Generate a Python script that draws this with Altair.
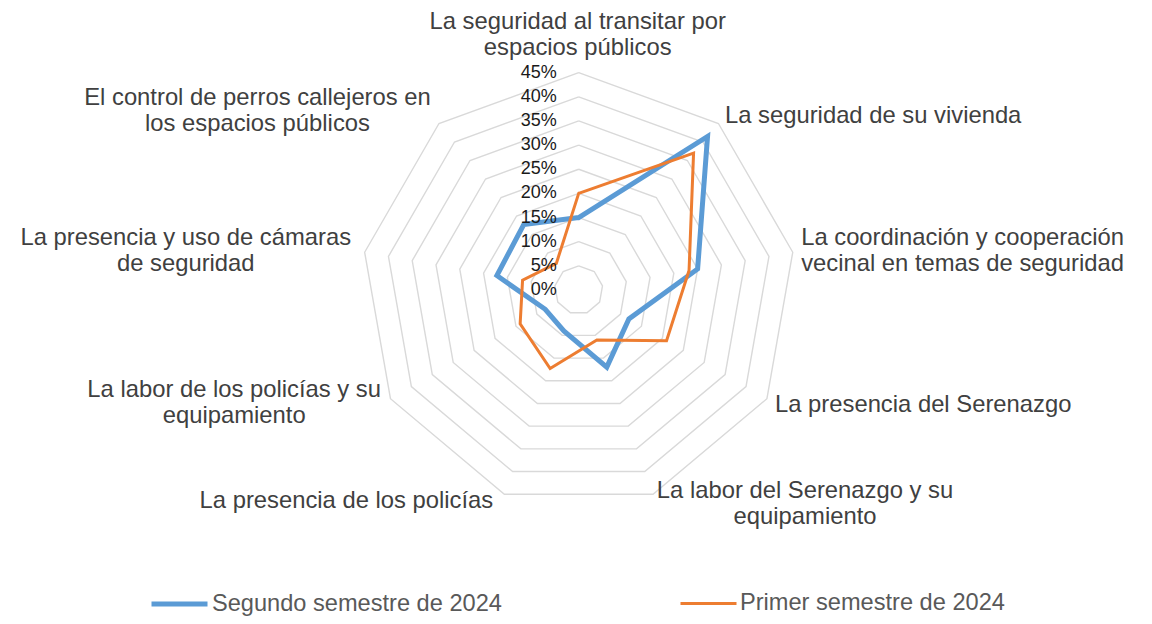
import math
import altair as alt
import pandas as pd

# ---------------- data ----------------
categories = [
    "La seguridad al transitar por espacios públicos",
    "La seguridad de su vivienda",
    "La coordinación y cooperación vecinal en temas de seguridad",
    "La presencia del Serenazgo",
    "La labor del Serenazgo y su equipamiento",
    "La presencia de los policías",
    "La labor de los policías y su equipamiento",
    "La presencia y uso de cámaras de seguridad",
    "El control de perros callejeros en los espacios públicos",
]
category_labels = [
    "La seguridad al transitar por\nespacios públicos",
    "La seguridad de su vivienda",
    "La coordinación y cooperación\nvecinal en temas de seguridad",
    "La presencia del Serenazgo",
    "La labor del Serenazgo y su\nequipamiento",
    "La presencia de los policías",
    "La labor de los policías y su\nequipamiento",
    "La presencia y uso de cámaras\nde seguridad",
    "El control de perros callejeros en\nlos espacios públicos",
]
series_names = ["Segundo semestre de 2024", "Primer semestre de 2024"]
segundo = [15.0, 41.5, 25.0, 12.0, 17.0, 9.0, 8.0, 17.2, 17.7]
primer = [20.0, 37.0, 23.2, 21.0, 11.0, 17.3, 14.0, 11.8, 7.2]
series_values = [segundo, primer]
ring_values = [5, 10, 15, 20, 25, 30, 35, 40, 45]
tick_values = [0, 5, 10, 15, 20, 25, 30, 35, 40, 45]
tick_labels = ["0%", "5%", "10%", "15%", "20%", "25%", "30%", "35%", "40%", "45%"]

# ---------------- layout ----------------
CX, CY, K = 578.7, 290.0, 4.83      # page centre (px) and px per percentage point
W, H = 1136, 608
X0 = (0 - (CX - 8)) / K
X1 = (W - (CX - 8)) / K
Y1 = (CY - 8) / K
Y0 = Y1 - H / K
R_MAX = 45
FONT = "Liberation Sans"
COLORS = ["#5b9bd5", "#ed7d31"]
WIDTHS = [5, 3]
LABEL_SIZE = 23.8

# per-label placement relative to the outer ring vertex: (align, dx px, dy px)
label_layout = [
    ("center", -1, -43.4),
    ("left", 6.6, -0.2),
    ("center", 169.8, -7.3),
    ("left", 8.1, 13.0),
    ("center", 152.0, 4.1),
    ("right", -11.1, 14.1),
    ("center", -156.3, -2.0),
    ("center", -178.9, -7.3),
    ("center", -181.5, -18.5),
]

n = len(categories)


def polar(v, i):
    a = 2 * math.pi * i / n
    return v * math.sin(a), v * math.cos(a)


# series polygons
rows = []
for s, vals in zip(series_names, series_values):
    for k in range(n + 1):
        i = k % n
        x, y = polar(vals[i], i)
        rows.append({"series": s, "cat": categories[i], "value": vals[i], "order": k, "x": x, "y": y})
df_series = pd.DataFrame(rows)

# grid rings
grows = []
for r in ring_values:
    for k in range(n + 1):
        x, y = polar(r, k % n)
        grows.append({"ring": r, "order": k, "x": x, "y": y})
df_grid = pd.DataFrame(grows)

# tick labels (left of the top axis)
df_ticks = pd.DataFrame({
    "label": tick_labels,
    "x": [-22 / K] * len(tick_values),
    "y": tick_values,
})

# category labels
lrows = []
for i, (lab, (al, dx, dy)) in enumerate(zip(category_labels, label_layout)):
    vx, vy = polar(R_MAX, i)
    lrows.append({"label": lab, "align": al, "x": vx + dx / K, "y": vy - dy / K})
df_labels = pd.DataFrame(lrows)

xs = alt.Scale(domain=[X0, X1], nice=False, zero=False)
ys = alt.Scale(domain=[Y0, Y1], nice=False, zero=False)
X = alt.X("x:Q", scale=xs, axis=None)
Y = alt.Y("y:Q", scale=ys, axis=None)

grid = alt.Chart(df_grid).mark_line(color="#d9d9d9", strokeWidth=1.4, clip=False).encode(
    x=X, y=Y, detail="ring:N", order="order:Q"
)

legend = alt.Legend(
    orient="none", legendX=141, legendY=565, direction="horizontal", title=None,
    symbolType="stroke", symbolSize=3136, labelFontSize=23.6, labelFont=FONT,
    labelColor="#595959", labelOffset=2, columnPadding=172, labelLimit=500, padding=0,
)

lines = alt.Chart(df_series).mark_line(strokeJoin="miter", strokeCap="round", clip=False).encode(
    x=X, y=Y, order="order:Q",
    color=alt.Color("series:N", scale=alt.Scale(domain=series_names, range=COLORS), legend=legend),
    strokeWidth=alt.StrokeWidth("series:N", scale=alt.Scale(domain=series_names, range=WIDTHS), legend=legend),
)

ticks = alt.Chart(df_ticks).mark_text(
    align="right", baseline="middle", font=FONT, fontSize=18, color="#1a1a1a"
).encode(x=X, y=Y, text="label:N")

label_layers = []
for al in ["left", "center", "right"]:
    sub = df_labels[df_labels["align"] == al]
    label_layers.append(
        alt.Chart(sub).mark_text(
            align=al, baseline="alphabetic", font=FONT, fontSize=LABEL_SIZE, color="#404040",
            lineBreak="\n", lineHeight=26,
        ).encode(x=X, y=Y, text="label:N")
    )

chart = alt.layer(grid, lines, ticks, *label_layers).properties(
    width=W, height=H, padding=0, autosize=alt.AutoSizeParams(type="none"),
    background="white",
).configure_view(stroke=None)

chart.save("out.html", embed_options={"renderer": "svg", "actions": False})
